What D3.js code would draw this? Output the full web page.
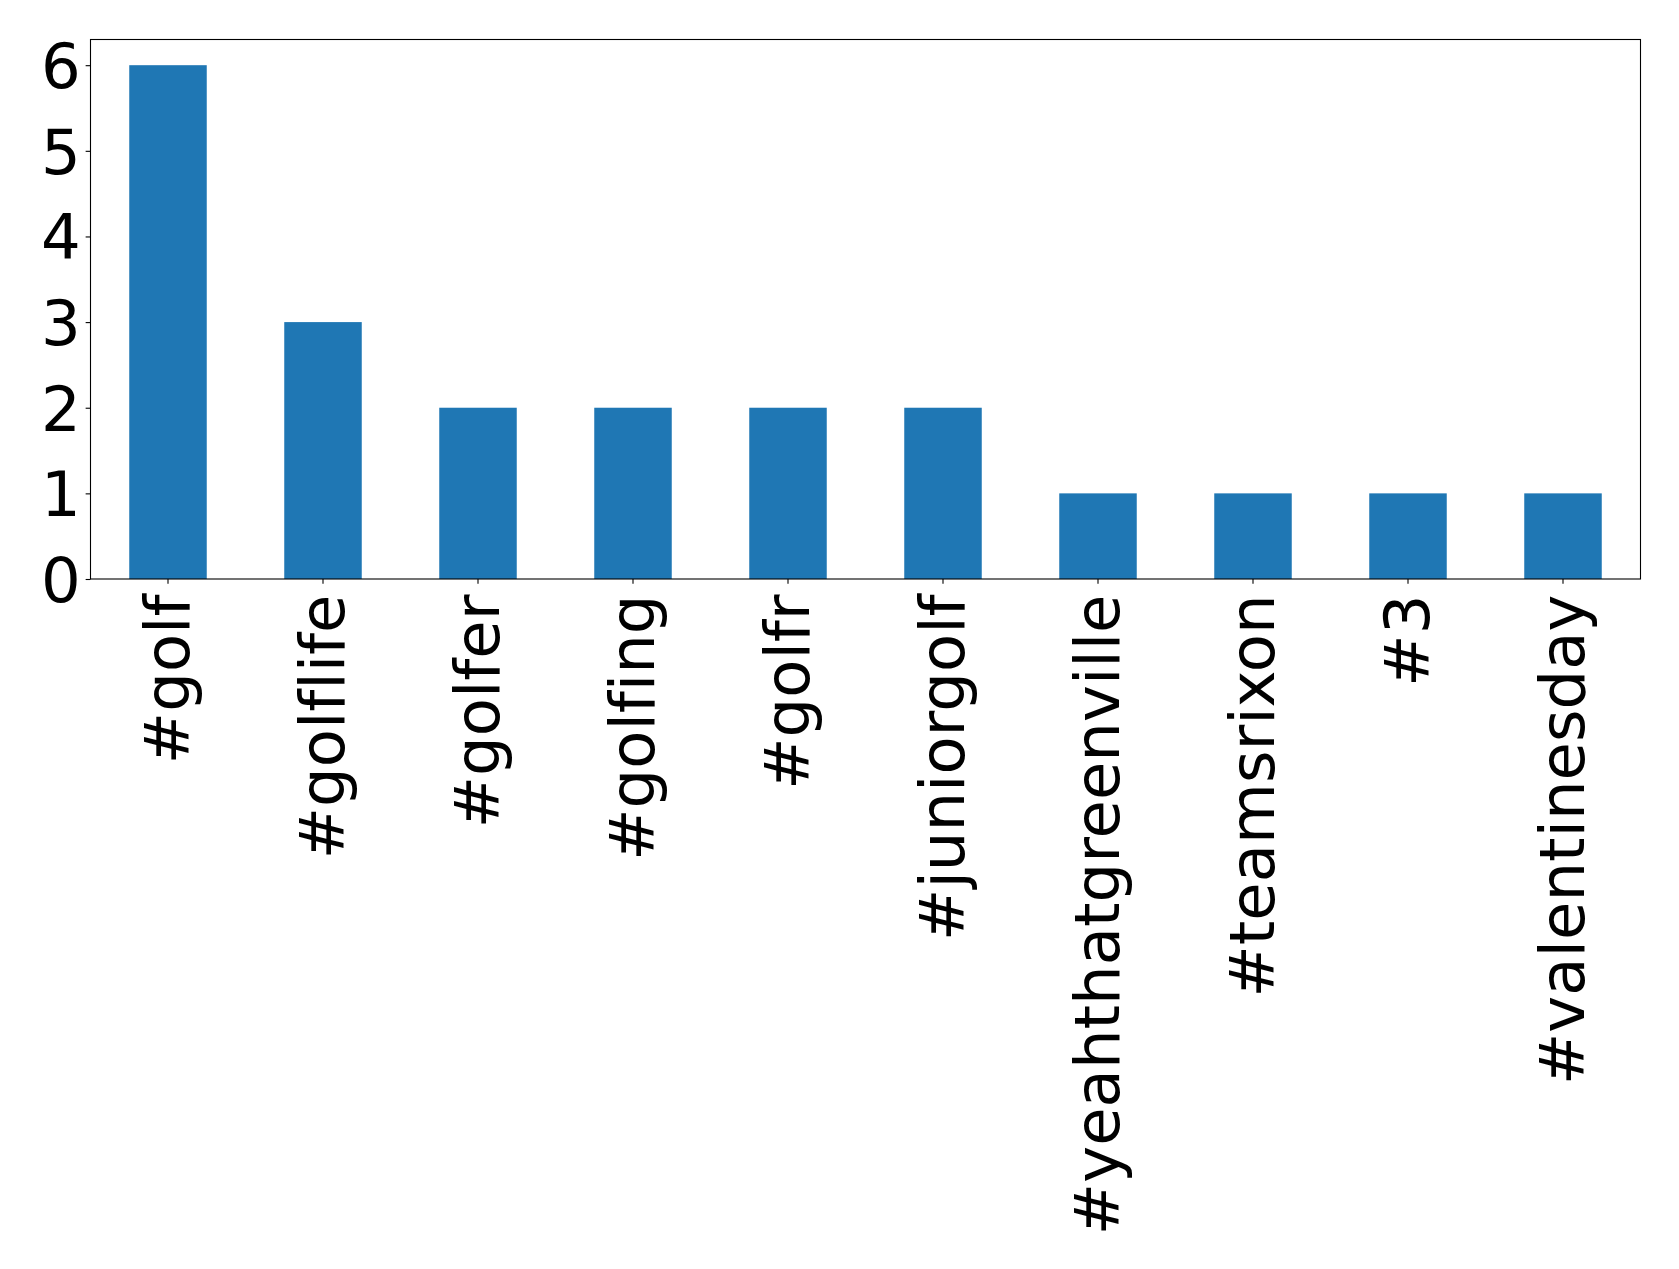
<!DOCTYPE html>
<html><head><meta charset="utf-8">
<script src="https://cdn.jsdelivr.net/npm/d3@7"></script>
<style>html,body{margin:0;padding:0;background:#fff;} text{font-variant-ligatures:none;font-feature-settings:"liga" 0;}</style>
</head><body>
<script>
const categories = ["#golf","#golflife","#golfer","#golfing","#golfr","#juniorgolf","#yeahthatgreenville","#teamsrixon","#3","#valentinesday"];
const counts = [6,3,2,2,2,2,1,1,1,1];
const yTicks = [0,1,2,3,4,5,6];

const W = 1679, H = 1269;
const m = {left: 90.5, right: 1640.5, top: 39.5, bottom: 579};
const fontSize = 62.5;
const svg = d3.select("body").append("svg").attr("width", W).attr("height", H)
  .style("font-family", "'DejaVu Sans', sans-serif");

const x = d3.scaleBand().domain(categories).range([m.left, m.right]).paddingInner(0.5).paddingOuter(0.25);
const y = d3.scaleLinear().domain([0, 6.3]).range([m.bottom, m.top]);

svg.append("g").selectAll("rect").data(categories).join("rect")
  .attr("x", d => x(d)).attr("width", x.bandwidth())
  .attr("y", (d,i) => y(counts[i])).attr("height", (d,i) => y(0) - y(counts[i]))
  .attr("fill", "#1f77b4");

const yAxis = svg.append("g").attr("transform", `translate(${m.left},0)`)
  .call(d3.axisLeft(y).tickValues(yTicks).tickFormat(d3.format("d")).tickSize(4.86).tickPadding(4.86));
yAxis.select(".domain").remove();
yAxis.selectAll("line").attr("stroke", "#000").attr("stroke-width", 1.1);
yAxis.selectAll("text").attr("font-size", fontSize).attr("font-family", "'DejaVu Sans', sans-serif").attr("fill", "#000").attr("dy", "0.36em");

const xAxis = svg.append("g").attr("transform", `translate(0,${m.bottom})`)
  .call(d3.axisBottom(x).tickSize(4.86).tickPadding(4.86));
xAxis.select(".domain").remove();
xAxis.selectAll("line").attr("stroke", "#000").attr("stroke-width", 1.1);
xAxis.selectAll("text").attr("font-size", fontSize).attr("font-family", "'DejaVu Sans', sans-serif").attr("fill", "#000")
  .attr("text-anchor", "end").attr("transform", "rotate(-90)")
  .attr("x", -15.5).attr("y", 0).attr("dy", "0.34em");

svg.append("rect").attr("x", m.left).attr("y", m.top).attr("width", m.right - m.left).attr("height", m.bottom - m.top)
  .attr("fill", "none").attr("stroke", "#000").attr("stroke-width", 1.1);
</script>
</body></html>
